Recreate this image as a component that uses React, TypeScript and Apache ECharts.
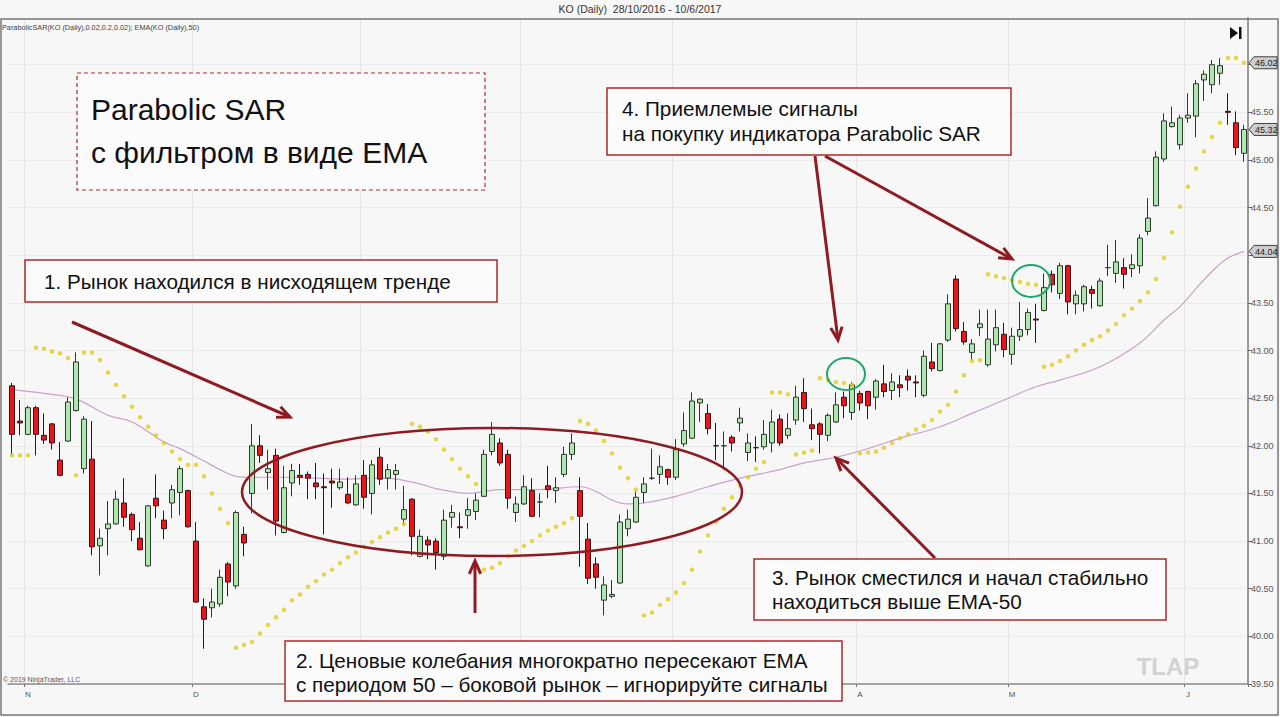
import React, { useEffect, useRef } from "react";
import * as echarts from "echarts";

// [open, close, low, high]
const candles: number[][] = [
  [42.63, 42.12, 41.90, 42.66], [42.26, 42.24, 42.11, 42.48], [42.12, 42.40, 42.11, 42.42], [42.40, 42.12, 41.90, 42.42],
  [42.11, 42.06, 42.02, 42.34], [42.23, 42.03, 41.96, 42.24], [41.85, 41.69, 41.68, 42.04], [42.05, 42.46, 42.04, 42.51],
  [42.37, 42.88, 42.36, 42.98], [41.76, 42.28, 41.71, 42.31], [41.86, 40.94, 40.85, 42.26], [40.95, 41.03, 40.64, 41.13],
  [41.13, 41.18, 40.85, 41.42], [41.18, 41.44, 41.17, 41.53], [41.40, 41.25, 41.15, 41.66], [41.28, 41.12, 41.00, 41.30],
  [41.03, 40.91, 40.90, 41.20], [40.74, 41.37, 40.73, 41.38], [41.45, 41.37, 41.24, 41.70], [41.22, 41.13, 41.02, 41.32],
  [41.40, 41.54, 41.24, 41.59], [41.51, 41.76, 41.27, 41.79], [41.53, 41.15, 41.14, 41.54], [41.00, 40.36, 40.35, 41.20],
  [40.31, 40.18, 39.87, 40.40], [40.30, 40.36, 40.20, 40.50], [40.34, 40.62, 40.31, 40.70], [40.76, 40.57, 40.42, 40.78],
  [40.53, 41.30, 40.50, 41.32], [41.07, 40.98, 40.84, 41.15], [41.50, 42.00, 41.29, 42.23], [42.00, 41.90, 41.82, 42.11],
  [41.72, 41.76, 41.54, 41.96], [41.90, 41.21, 41.06, 41.97], [41.09, 41.56, 41.08, 41.79], [41.61, 41.74, 41.47, 41.81],
  [41.69, 41.67, 41.59, 41.81], [41.70, 41.66, 41.44, 41.73], [41.61, 41.57, 41.44, 41.82], [41.57, 41.56, 41.07, 41.71],
  [41.63, 41.61, 41.35, 41.76], [41.56, 41.62, 41.54, 41.76], [41.49, 41.40, 41.39, 41.67], [41.38, 41.60, 41.37, 41.69],
  [41.69, 41.46, 41.34, 41.85], [41.50, 41.80, 41.28, 41.85], [41.88, 41.65, 41.59, 41.98], [41.66, 41.75, 41.54, 41.81],
  [41.70, 41.74, 41.54, 41.81], [41.23, 41.33, 41.17, 41.58], [41.44, 41.05, 40.85, 41.45], [40.84, 41.05, 40.83, 41.12],
  [41.01, 40.96, 40.81, 41.05], [41.00, 40.88, 40.70, 41.03], [40.84, 41.22, 40.80, 41.33], [41.25, 41.30, 41.14, 41.38],
  [41.15, 41.14, 41.03, 41.30], [41.27, 41.33, 41.13, 41.45], [41.31, 41.43, 41.22, 41.50], [41.47, 41.91, 41.46, 41.96],
  [41.94, 42.12, 41.90, 42.25], [42.03, 41.82, 41.79, 42.08], [41.91, 41.45, 41.34, 41.96], [41.30, 41.39, 41.20, 41.47],
  [41.39, 41.57, 41.38, 41.69], [41.53, 41.26, 41.25, 41.66], [41.41, 41.41, 41.25, 41.50], [41.58, 41.54, 41.45, 41.79],
  [41.53, 41.56, 41.40, 41.67], [41.70, 41.91, 41.67, 41.99], [41.91, 42.03, 41.85, 42.13], [41.53, 41.26, 40.73, 41.67],
  [41.02, 40.61, 40.55, 41.19], [40.76, 40.62, 40.50, 40.83], [40.38, 40.54, 40.22, 40.63], [40.42, 40.44, 40.40, 40.59],
  [40.56, 41.20, 40.55, 41.28], [41.13, 41.23, 41.05, 41.33], [41.20, 41.46, 41.19, 41.52], [41.51, 41.60, 41.40, 41.67],
  [41.66, 41.66, 41.64, 41.97], [41.70, 41.78, 41.60, 41.90], [41.75, 41.67, 41.59, 41.76], [41.67, 41.96, 41.64, 42.07],
  [42.02, 42.16, 41.99, 42.35], [42.08, 42.47, 42.07, 42.56], [42.45, 42.49, 42.25, 42.50], [42.34, 42.18, 42.12, 42.44],
  [42.00, 42.00, 41.85, 42.24], [42.00, 42.00, 41.75, 42.15], [42.09, 42.03, 41.94, 42.11], [42.24, 42.29, 42.15, 42.40],
  [41.93, 42.03, 41.84, 42.13], [41.98, 41.98, 41.83, 42.10], [41.99, 42.12, 41.96, 42.27], [42.03, 42.25, 41.93, 42.38],
  [42.28, 42.03, 42.00, 42.33], [42.11, 42.18, 42.07, 42.34], [42.27, 42.51, 42.22, 42.63], [42.56, 42.39, 42.25, 42.71],
  [42.22, 42.18, 42.06, 42.39], [42.23, 42.12, 41.92, 42.25], [42.11, 42.32, 42.05, 42.34], [42.25, 42.43, 42.24, 42.56],
  [42.51, 42.42, 42.29, 42.57], [42.35, 42.64, 42.27, 42.67], [42.55, 42.45, 42.37, 42.58], [42.57, 42.42, 42.28, 42.58],
  [42.51, 42.68, 42.38, 42.70], [42.65, 42.57, 42.51, 42.85], [42.58, 42.67, 42.48, 42.76], [42.64, 42.61, 42.51, 42.74],
  [42.73, 42.69, 42.58, 42.80], [42.67, 42.66, 42.51, 42.74], [42.53, 42.94, 42.51, 43.00], [42.88, 42.81, 42.78, 43.08],
  [42.79, 43.07, 42.78, 43.08], [43.11, 43.49, 43.09, 43.59], [43.75, 43.23, 43.20, 43.79], [43.20, 43.09, 43.06, 43.30],
  [42.98, 43.07, 42.90, 43.12], [43.24, 43.28, 43.15, 43.43], [42.85, 43.12, 42.83, 43.43], [43.06, 43.24, 42.99, 43.43],
  [43.17, 43.01, 42.93, 43.29], [42.96, 43.15, 42.85, 43.24], [43.15, 43.22, 43.10, 43.51], [43.22, 43.40, 43.16, 43.44],
  [43.33, 43.32, 43.08, 43.49], [43.42, 43.66, 43.41, 43.81], [43.80, 43.69, 43.61, 43.84], [43.60, 43.89, 43.54, 43.92],
  [43.89, 43.51, 43.38, 43.90], [43.49, 43.58, 43.38, 43.63], [43.49, 43.67, 43.41, 43.69], [43.64, 43.60, 43.44, 43.68],
  [43.47, 43.73, 43.46, 43.76], [43.87, 43.87, 43.78, 44.11], [43.81, 43.93, 43.71, 44.16], [43.87, 43.80, 43.65, 43.97],
  [43.86, 43.90, 43.77, 44.01], [43.89, 44.18, 43.81, 44.22], [44.25, 44.39, 44.21, 44.60], [44.52, 45.03, 44.51, 45.09],
  [45.01, 45.41, 44.98, 45.49], [45.35, 45.39, 45.34, 45.56], [45.16, 45.44, 45.11, 45.47], [45.44, 45.47, 45.39, 45.70],
  [45.46, 45.80, 45.24, 45.84], [45.84, 45.90, 45.62, 45.94], [45.79, 46.00, 45.70, 46.05], [45.91, 45.99, 45.79, 46.07],
  [45.51, 45.50, 45.37, 45.70], [45.39, 45.13, 45.05, 45.51], [45.07, 45.32, 44.98, 45.37],
];

const sar: number[] = [
  41.90, 41.90, 41.90, 43.03, 43.02, 42.99, 42.97, 42.92, 41.69, 42.98,
  42.98, 42.90, 42.77, 42.64, 42.52, 42.41, 42.30, 42.20, 42.11, 42.03,
  41.94, 41.86, 41.80, 41.80, 41.68, 41.50, 41.34, 41.19, 39.88, 39.91,
  39.94, 40.03, 40.12, 40.20, 40.28, 40.38, 40.44, 40.52, 40.58, 40.65,
  40.70, 40.77, 40.83, 40.88, 40.94, 40.99, 41.04, 41.09, 41.13, 41.18,
  42.23, 42.20, 42.15, 42.07, 41.96, 41.86, 41.76, 41.68, 41.60, 40.70,
  40.72, 40.77, 40.84, 40.90, 40.95, 41.00, 41.06, 41.11, 41.15, 41.19,
  41.24, 42.26, 42.23, 42.16, 42.05, 41.92, 41.77, 41.66, 41.54, 40.22,
  40.25, 40.33, 40.39, 40.46, 40.56, 40.70, 40.89, 41.06, 41.20, 41.34,
  41.46, 41.58, 41.67, 41.76, 41.83, 42.56, 42.56, 42.54, 41.91, 41.93,
  41.95, 42.71, 42.69, 42.67, 42.66, 42.64, 41.92, 41.93, 41.94, 41.98,
  42.03, 42.08, 42.12, 42.17, 42.21, 42.27, 42.36, 42.43, 42.57, 42.74,
  42.89, 42.90, 43.80, 43.78, 43.76, 43.74, 43.72, 43.70, 43.69, 42.83,
  42.85, 42.89, 42.94, 43.00, 43.06, 43.11, 43.15, 43.21, 43.28, 43.37,
  43.44, 43.52, 43.61, 43.75, 43.97, 44.24, 44.51, 44.72, 44.91, 45.09,
  45.24, 45.39, 46.07, 46.07, 46.02,
];

const emaPoints: number[][] = [
  [0, 42.59], [4, 42.55], [8, 42.49], [12, 42.32], [15, 42.25], [19, 42.04], [21, 41.97], [24, 41.84],
  [26, 41.75], [28, 41.68], [30, 41.67], [34, 41.67], [38, 41.66], [42, 41.65], [46, 41.66], [48, 41.65],
  [51, 41.60], [53, 41.55], [55, 41.52], [57, 41.50], [59, 41.52], [61, 41.54], [63, 41.54], [66, 41.54],
  [71, 41.57], [73, 41.52], [75, 41.43], [77, 41.39], [79, 41.40], [83, 41.47], [87, 41.57], [91, 41.66],
  [96, 41.75], [99, 41.82], [103, 41.88], [107, 41.97], [111, 42.08], [116, 42.20], [120, 42.34], [124, 42.48],
  [128, 42.62], [131, 42.69], [136, 42.83], [141, 43.08], [144, 43.32], [146, 43.46], [148, 43.65], [150, 43.83],
  [152, 43.97], [154, 44.04],
];

// first bar of each month (gridlines); labels shown only where not covered by an annotation box
const monthStarts = [2, 23, 44, 64, 83, 106, 125, 147];
const monthLabels = ["N", "D", "J", "F", "M", "A", "M", "J"];
const visibleMonthLabels = [2, 23, 106, 125, 147];

const yMin = 39.5;
const yMax = 46.49;
const yStep = 0.5;

const FONT = '"Liberation Sans", Arial, sans-serif';
const MAROON = "#8e1b22";
const BOXRED = "#b02a2a";

function arrow(x1: number, y1: number, x2: number, y2: number) {
  const ang = Math.atan2(y2 - y1, x2 - x1);
  const L = 14;
  const a = 0.42;
  const p1 = [x2 - L * Math.cos(ang - a), y2 - L * Math.sin(ang - a)];
  const p2 = [x2 - L * Math.cos(ang + a), y2 - L * Math.sin(ang + a)];
  return [
    { type: "line", z: 100, shape: { x1, y1, x2, y2 }, style: { stroke: MAROON, lineWidth: 3 } },
    { type: "polyline", z: 100, shape: { points: [p1, [x2, y2], p2] }, style: { stroke: MAROON, lineWidth: 3, fill: "none" } },
  ];
}

function box(x: number, y: number, w: number, h: number, lines: string[], tx: number, ty0: number, dy: number, size: number, dashed = false) {
  const els: any[] = [
    {
      type: "rect", z: 100, shape: { x, y, width: w, height: h },
      style: { fill: "#fbfbfb", stroke: BOXRED, lineWidth: dashed ? 1.2 : 1.5, lineDash: dashed ? [4, 3] : null },
    },
  ];
  lines.forEach((t, i) => {
    els.push({
      type: "text", z: 101, x: tx, y: ty0 + i * dy,
      style: { text: t, fontFamily: FONT, fontSize: size, fill: "#111", verticalAlign: "middle", align: "left" },
    });
  });
  return els;
}

export default function App() {
  const ref = useRef<HTMLDivElement>(null);
  useEffect(() => {
    if (!ref.current) return;
    const chart = echarts.init(ref.current, undefined, { renderer: "svg" });
    const cats = candles.map((_, i) => String(i));
    const isMonth = (i: number) => monthStarts.indexOf(i) >= 0;
    const isLabel = (i: number) => visibleMonthLabels.indexOf(i) >= 0;
    const lastClose = candles[candles.length - 1][1];
    const lastSar = sar[sar.length - 1];
    const lastEma = emaPoints[emaPoints.length - 1][1];
    const markers = [lastSar, lastClose, lastEma];
    // axis labels covered by a last-value marker (as in the reference)
    const covered = (v: number) => markers.some((m) => Math.abs(m - v) < 0.07);

    const graphic: any[] = [
      { type: "rect", z: 90, shape: { x: 1, y: 19, width: 1277, height: 696 }, style: { fill: "none", stroke: "#7a7a7a", lineWidth: 1.5 } },
      { type: "text", z: 100, x: 640, y: 9, style: { text: "KO (Daily)  28/10/2016 - 10/6/2017", fontFamily: FONT, fontSize: 10.5, fill: "#333", align: "center", verticalAlign: "middle" } },
      { type: "text", z: 100, x: 2, y: 27, style: { text: "ParabolicSAR(KO (Daily),0.02,0.2,0.02); EMA(KO (Daily),50)", fontFamily: FONT, fontSize: 7.3, fill: "#444", verticalAlign: "middle" } },
      { type: "text", z: 100, x: 3, y: 679, style: { text: "© 2019 NinjaTrader, LLC", fontFamily: FONT, fontSize: 7, fill: "#555", verticalAlign: "middle" } },
      { type: "text", z: 100, x: 1168, y: 666, style: { text: "TLAP", fontFamily: FONT, fontSize: 24, fontWeight: "bold", fill: "#d2d2d2", align: "center", verticalAlign: "middle" } },
      { type: "polygon", z: 100, shape: { points: [[1230, 27], [1230, 39], [1238, 33]] }, style: { fill: "#111" } },
      { type: "rect", z: 100, shape: { x: 1239, y: 27, width: 2.5, height: 12 }, style: { fill: "#111" } },
      { type: "ellipse", z: 100, shape: { cx: 492, cy: 492, rx: 250, ry: 64 }, style: { fill: "none", stroke: MAROON, lineWidth: 2.5 } },
      { type: "ellipse", z: 100, shape: { cx: 846, cy: 374, rx: 19, ry: 16 }, style: { fill: "none", stroke: "#1fa86a", lineWidth: 2 } },
      { type: "ellipse", z: 100, shape: { cx: 1031, cy: 281, rx: 19, ry: 16 }, style: { fill: "none", stroke: "#1fa86a", lineWidth: 2 } },
      ...arrow(72, 322, 290, 417),
      ...arrow(475, 613, 475, 561),
      ...arrow(815, 156, 838, 340),
      ...arrow(825, 156, 1012, 259),
      ...arrow(935, 558, 836, 458),
      ...box(77, 73, 408, 117, ["Parabolic SAR", "с фильтром в виде EMA"], 91, 109, 43, 30, true),
      ...box(25, 260, 472, 42, ["1. Рынок находился в нисходящем тренде"], 44, 281, 0, 20.7),
      ...box(607, 88, 404, 67, ["4. Приемлемые сигналы", "на покупку индикатора Parabolic SAR"], 622, 108, 25, 20.7),
      ...box(754, 559, 412, 61, ["3. Рынок сместился и начал стабильно", "находиться выше EMA-50"], 772, 577, 24, 20.7),
      ...box(285, 641, 557, 60, ["2. Ценовые колебания многократно пересекают EMA", "с периодом 50 – боковой рынок – игнорируйте сигналы"], 296, 660, 24, 20.7),
    ];

    chart.setOption({
      animation: false,
      backgroundColor: "#f7f7f7",
      textStyle: { fontFamily: FONT },
      grid: { left: 8, right: 32, top: 18, bottom: 33 },
      xAxis: {
        type: "category",
        data: cats,
        boundaryGap: true,
        axisLine: { lineStyle: { color: "#8a8a8a", width: 1.5 } },
        axisTick: { show: true, interval: (i: number) => isLabel(i), length: 3, lineStyle: { color: "#777" } },
        axisLabel: {
          interval: (i: number) => isLabel(i),
          formatter: (_v: string, i: number) => monthLabels[monthStarts.indexOf(i)] || "",
          fontSize: 8, color: "#555", margin: 6,
        },
        splitLine: { show: true, interval: (i: number) => isMonth(i), lineStyle: { color: "#e6e6e6" } },
      },
      yAxis: {
        type: "value",
        position: "right",
        min: yMin,
        max: yMax,
        interval: yStep,
        scale: true,
        axisLine: { show: true, lineStyle: { color: "#9a9a9a", width: 2 } },
        axisTick: { show: true, length: 4, lineStyle: { color: "#666" } },
        axisLabel: { formatter: (v: number) => (covered(v) ? "" : v.toFixed(2)), fontSize: 9, color: "#555", margin: 3, showMaxLabel: false },
        splitLine: { show: true, lineStyle: { color: "#ebebeb" } },
      },
      series: [
        {
          type: "candlestick",
          data: candles,
          barWidth: 5,
          itemStyle: { color: "#aee8ae", color0: "#e8161c", borderColor: "#2c3a2c", borderColor0: "#3a1414", borderWidth: 1 },
          z: 3,
        },
        {
          type: "line",
          data: emaPoints,
          smooth: 0.4,
          showSymbol: false,
          lineStyle: { color: "#c9a2c6", width: 1.2 },
          z: 2,
        },
        {
          type: "scatter",
          data: sar,
          symbolSize: 4.5,
          itemStyle: { color: "#e3cb1f" },
          z: 4,
        },
      ],
      graphic,
    });

    // last-value markers on the price axis, placed through the axis scale
    const x0 = 1249;
    const markerEls: any[] = [];
    markers.forEach((v) => {
      const y = chart.convertToPixel({ yAxisIndex: 0 }, v) as number;
      markerEls.push({
        type: "polygon", z: 110,
        shape: { points: [[x0, y], [x0 + 5, y - 6], [x0 + 28, y - 6], [x0 + 28, y + 6], [x0 + 5, y + 6]] },
        style: { fill: "#cdcdcd", stroke: "#444", lineWidth: 1 },
      });
      markerEls.push({
        type: "text", z: 111, x: x0 + 6, y: y + 0.5,
        style: { text: v.toFixed(2), fontFamily: FONT, fontSize: 9, fill: "#222", verticalAlign: "middle", align: "left" },
      });
    });
    chart.setOption({ graphic: [...graphic, ...markerEls] });

    return () => chart.dispose();
  }, []);
  return <div ref={ref} style={{ position: "fixed", left: 0, top: 0, width: 1280, height: 717 }} />;
}
